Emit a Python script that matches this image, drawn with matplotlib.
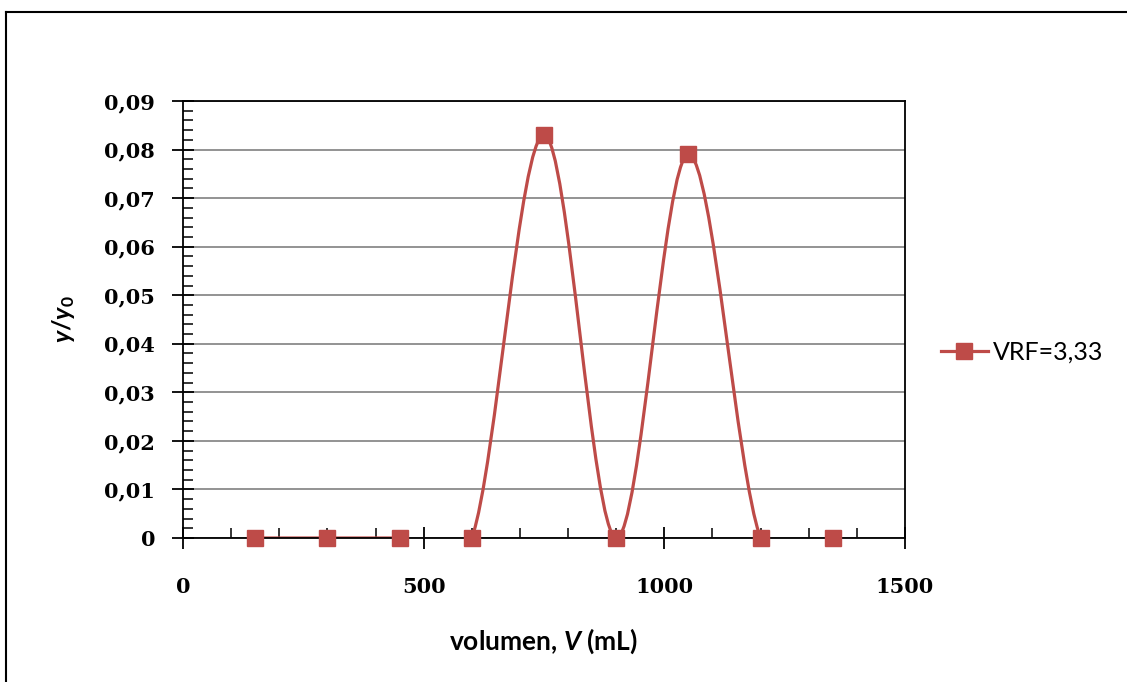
import matplotlib
matplotlib.use("Agg")
import matplotlib.pyplot as plt
from matplotlib.path import Path
from matplotlib.patches import PathPatch
from matplotlib.lines import Line2D
from matplotlib.ticker import MultipleLocator, FuncFormatter

# datos
volumen = [150, 300, 450, 600, 750, 900, 1050, 1200, 1350]
y_y0 = [0, 0, 0, 0, 0.083, 0, 0.079, 0, 0]
serie = 'VRF=3,33'
color = '#BE4B48'

plt.rcParams['mathtext.fontset'] = 'custom'
plt.rcParams['mathtext.it'] = 'Lato:bold:italic'
plt.rcParams['mathtext.rm'] = 'Lato:bold'
plt.rcParams['mathtext.bf'] = 'Lato:bold'

fig = plt.figure(figsize=(11.27, 6.82), dpi=100)
ax = fig.add_axes([183 / 1127, 1 - 538 / 682, (905 - 183) / 1127, (538 - 101) / 682])

# marco exterior (solo izquierda y arriba visibles)
fig.add_artist(Line2D([6 / 1127, 6 / 1127], [0, 1 - 12 / 682], color='black', lw=1.5,
                      transform=fig.transFigure))
fig.add_artist(Line2D([6 / 1127, 1], [1 - 12 / 682, 1 - 12 / 682], color='black', lw=1.5,
                      transform=fig.transFigure))

# curva suavizada estilo Excel (Bezier)
pts = list(zip(volumen, y_y0))
n = len(pts)
verts = [pts[0]]
codes = [Path.MOVETO]
for i in range(n - 1):
    p_prev = pts[i - 1] if i > 0 else pts[i]
    p0 = pts[i]
    p1 = pts[i + 1]
    p_next = pts[i + 2] if i + 2 < n else pts[i + 1]
    c1 = (p0[0] + (p1[0] - p_prev[0]) / 6, p0[1] + (p1[1] - p_prev[1]) / 6)
    c2 = (p1[0] - (p_next[0] - p0[0]) / 6, p1[1] - (p_next[1] - p0[1]) / 6)
    verts += [c1, c2, p1]
    codes += [Path.CURVE4] * 3
ax.add_patch(PathPatch(Path(verts, codes), fill=False, edgecolor=color, lw=2.3))
ax.plot(volumen, y_y0, linestyle='none', marker='s', markersize=11, color=color,
        clip_on=False, zorder=5)

ax.set_xlim(0, 1500)
ax.set_ylim(0, 0.09)
ax.xaxis.set_major_locator(MultipleLocator(500))
ax.xaxis.set_minor_locator(MultipleLocator(100))
ax.yaxis.set_major_locator(MultipleLocator(0.01))
ax.yaxis.set_minor_locator(MultipleLocator(0.002))
ax.yaxis.set_major_formatter(FuncFormatter(lambda v, p: '0' if abs(v) < 1e-9 else f'{v:.2f}'.replace('.', ',')))
ax.grid(axis='y', which='major', color='#808080', lw=1.2)
ax.set_axisbelow(True)
for s in ax.spines.values():
    s.set_linewidth(1.3)

ax.tick_params(axis='both', which='major', direction='inout', length=16, width=1.3)
ax.tick_params(axis='both', which='minor', direction='in', length=7, width=1.1)
ax.tick_params(axis='x', which='major', pad=20)
ax.tick_params(axis='y', which='major', pad=12)
for lab in ax.get_xticklabels() + ax.get_yticklabels():
    lab.set_fontfamily('DejaVu Serif')
    lab.set_fontweight('bold')
    lab.set_fontsize(15)

ax.set_xlabel(r'volumen, $V$ (mL)', fontsize=19, fontweight='bold', family='Lato', labelpad=21)
ax.set_ylabel(r'$y/y_0$', fontsize=18, labelpad=20)

h = Line2D([], [], color=color, lw=2.3, marker='s', markersize=11)
fig.legend([h], [serie], loc='center left', bbox_to_anchor=(918 / 1127, 1 - 352 / 682),
           frameon=False, prop={'family': 'Lato', 'size': 18}, handlelength=1.9,
           handletextpad=0.2)

fig.savefig('out.png', dpi=100)
